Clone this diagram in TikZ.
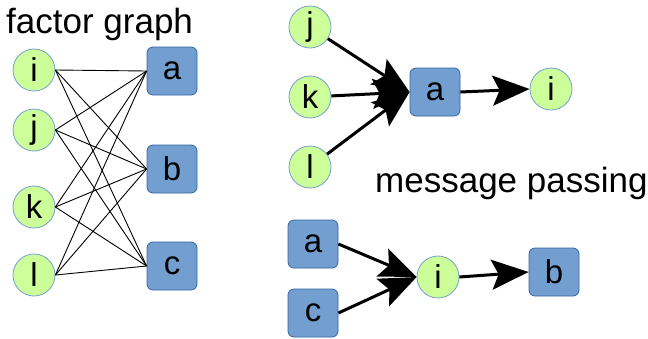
\documentclass[tikz,border=0pt]{standalone}
\usepackage{fontspec}
\setmainfont{Liberation Sans}
\usetikzlibrary{arrows.meta}
\definecolor{varfill}{RGB}{204,255,153}
\definecolor{varline}{RGB}{114,159,207}
\definecolor{facfill}{RGB}{114,159,207}
\definecolor{facline}{RGB}{52,101,164}
\tikzset{
  var/.style={circle, draw=varline, fill=varfill, line width=0.8pt,
    minimum size=42pt, inner sep=0pt, font=\fontsize{33}{33}\selectfont},
  fac/.style={rectangle, rounded corners=6pt, draw=facline, fill=facfill,
    line width=0.8pt, minimum width=50pt, minimum height=48pt, inner sep=0pt,
    font=\fontsize{33}{33}\selectfont},
  edge/.style={draw=black, line width=0.9pt},
  msg/.style={draw=black, line width=3pt,
    -{Stealth[length=37pt, width=30pt, inset=7pt]}},
  caption/.style={anchor=base west, inner sep=0pt, font=\fontsize{35}{35}\selectfont}
}
\begin{document}
\begin{tikzpicture}[x=1pt, y=-1pt]
  \useasboundingbox (0,0) rectangle (648,338);

  % factor graph: variables on the left, factors on the right
  \node[caption] (t1) at (6,33) {factor graph};
  \node[var] (vi) at (34,70) {i};
  \node[var] (vj) at (34,130) {j};
  \node[var] (vk) at (34,207) {k};
  \node[var] (vl) at (34,275) {l};
  \node[fac] (fa) at (172,71) {a};
  \node[fac] (fb) at (172,169) {b};
  \node[fac] (fc) at (172,266) {c};
  \foreach \v in {vi,vj,vk,vl}
    \foreach \f in {fa,fb,fc}
      \draw[edge] (\v.east) -- (\f.west);

  % message from variables j,k,l through factor a to i
  \node[var] (mj) at (310,27) {j};
  \node[var] (mk) at (310,97) {k};
  \node[var] (ml) at (310,167) {l};
  \node[fac] (ma) at (435,92) {a};
  \node[var] (mi) at (551,89) {i};
  \draw[msg] (mj) -- (ma.west);
  \draw[msg] (mk) -- (ma.west);
  \draw[msg] (ml) -- (ma.west);
  \draw[msg] (ma.east) -- (mi.west);

  \node[caption] (t2) at (375,192) {message passing};

  % message from factors a,c through variable i to b
  \node[fac] (na) at (313,244) {a};
  \node[fac] (nc) at (313,313) {c};
  \node[var] (ni) at (438,277) {i};
  \node[fac] (nb) at (554,272) {b};
  \draw[msg] (na.east) -- (ni.west);
  \draw[msg] (nc.east) -- (ni.west);
  \draw[msg] (ni.east) -- (nb.west);
\end{tikzpicture}
\end{document}
